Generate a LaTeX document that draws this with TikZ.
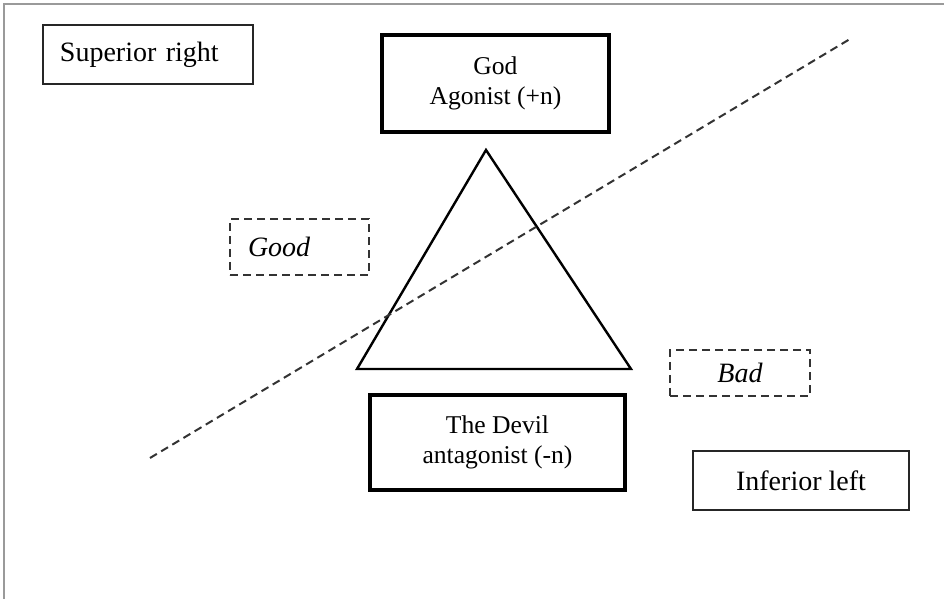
\documentclass[tikz,border=0pt]{standalone}
\usepackage{fontspec}
\setmainfont{Liberation Serif}
\usetikzlibrary{positioning}
\definecolor{frame}{HTML}{9A9A9A}
\definecolor{dashgrey}{HTML}{333333}

\begin{document}
\begin{tikzpicture}[
  x=0.5pt, y=-0.5pt,
  font=\fontsize{12.8}{15}\selectfont,
  side/.style={draw=black!85, line width=1pt, align=center, inner sep=0pt, font=\fontsize{14}{16}\selectfont},
  pole/.style={draw=black, line width=2pt, align=center, inner sep=0pt},
  moral/.style={draw=dashgrey, dash pattern=on 4pt off 2.5pt, line width=0.9pt, inner sep=0pt, font=\fontsize{14}{16}\selectfont\itshape},
  tri/.style={draw=black, line width=1.2pt, line join=miter},
]
\useasboundingbox (0,0) rectangle (944,599);
% page frame (top and left only)
\draw[frame, line width=1pt] (4,599) -- (4,4) -- (944,4);

% boxes
\node[side, minimum width=105pt, minimum height=29.5pt, text width=88pt, align=left] (sup) at (148,54.5) {Superior right};
\node[pole, minimum width=113.5pt, minimum height=48.5pt] (god) at (495.5,83.5) {God\\Agonist (+n)};
\node[moral, minimum width=69.5pt, minimum height=28pt, text width=51.5pt, align=left] (good) at (299.5,247) {Good};
\node[moral, minimum width=70pt, minimum height=23pt] (bad) at (740,373) {Bad};
\node[pole, minimum width=127.5pt, minimum height=47.5pt] (devil) at (497.5,442.5) {The Devil\\antagonist (-n)};
\node[side, minimum width=108pt, minimum height=29.5pt] (inf) at (801,480.5) {Inferior left};

% triangle
\coordinate (apex) at (486,150);
\coordinate (bl) at (357,369);
\coordinate (br) at (631,369);
\draw[tri] (apex) -- (br) -- (bl) -- cycle;

% dividing line
\coordinate (lo) at (150,458);
\coordinate (hi) at (850,39);
\draw[dashgrey, line width=1pt, dash pattern=on 4pt off 2.5pt] (lo) -- (hi);
\end{tikzpicture}
\end{document}
